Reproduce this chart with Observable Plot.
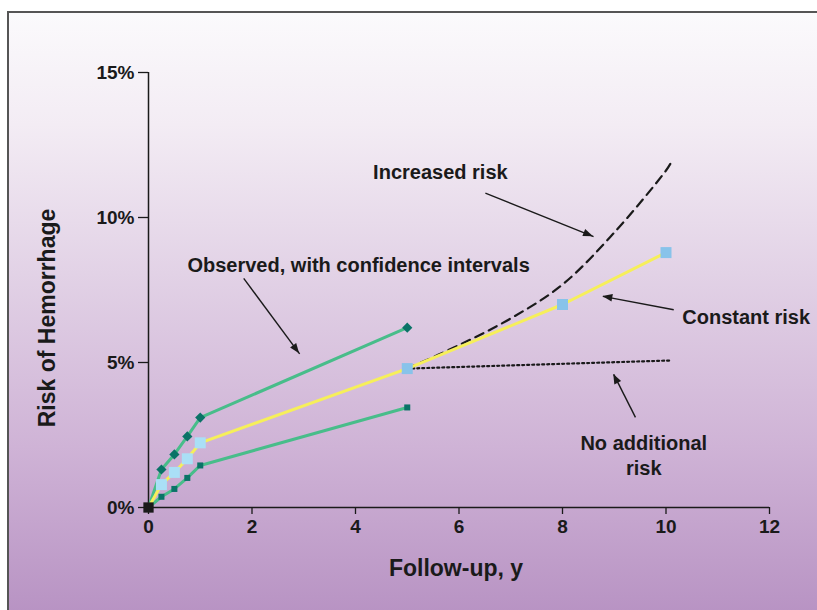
<!DOCTYPE html>
<html>
<head>
<meta charset="utf-8">
<script src="https://cdn.jsdelivr.net/npm/d3@7"></script>
<script src="https://cdn.jsdelivr.net/npm/@observablehq/plot@0.6"></script>
<style>
  html, body { margin: 0; padding: 0; background: #ffffff; width: 817px; height: 610px; overflow: hidden; }
  #frame {
    position: absolute; left: 7px; top: 11px; width: 830px; height: 620px;
    border-left: 2px solid #555; border-top: 2px solid #555;
    background: linear-gradient(to bottom, #fbfafc 0%, #f3ecf4 18%, #e2d2e6 42%, #cfb3d6 70%, #b58fc1 100%);
  }
  #chart { position: absolute; left: 0; top: 0; }
  #chart text { font-weight: 700; fill: #1a1a1a; }
  #chart g[aria-label$="tick label"] text { font-size: 19px; }
</style>
</head>
<body>
<div id="frame"></div>
<div id="chart"></div>
<script>
// Observed cumulative risk of hemorrhage (%), with confidence limits
const years = [0, 0.25, 0.5, 0.75, 1, 5];
const upperCI = [0, 1.31, 1.83, 2.45, 3.10, 6.2];
const observed = [0, 0.79, 1.21, 1.68, 2.23, 4.79];
const lowerCI = [0, 0.37, 0.64, 1.02, 1.45, 3.45];

// Projections beyond 5 years
const constYears = [5, 8, 10];
const constantRisk = [4.79, 7.0, 8.79];
const incYears = [5, 6, 7, 8, 9, 10, 10.1];
const increasedRisk = [4.79, 5.6, 6.52, 7.69, 9.48, 11.62, 11.9];
const noAddYears = [5, 10.1];
const noAdditionalRisk = [4.79, 5.07];

// Axis ticks
const xTicks = [0, 2, 4, 6, 8, 10, 12];
const yTicks = [0, 5, 10, 15];

// Annotations
const labelText = ["Increased risk", "Observed, with confidence intervals", "Constant risk", "No additional\nrisk"];
const labelX = [5.64, 4.06, 11.55, 9.57];
const labelY = [11.59, 8.38, 6.62, 1.84];
const arrowX1 = [6.51, 1.84, 10.15, 9.41];
const arrowY1 = [10.84, 7.90, 6.82, 3.11];
const arrowX2 = [8.60, 2.92, 8.78, 8.99];
const arrowY2 = [9.34, 5.30, 7.28, 4.59];

const rows = (xs, ys) => xs.map((x, i) => ({x, y: ys[i]}));
const upperData = rows(years, upperCI);
const obsData = rows(years, observed);
const lowerData = rows(years, lowerCI);
const constData = rows(constYears, constantRisk);
const incData = rows(incYears, increasedRisk);
const noAddData = rows(noAddYears, noAdditionalRisk);
const labels = labelText.map((t, i) => ({t, x: labelX[i], y: labelY[i]}));
const arrows = arrowX1.map((x1, i) => ({x1, y1: arrowY1[i], x2: arrowX2[i], y2: arrowY2[i]}));

const green = "#48bd8a", teal = "#0a7367", yellow = "#f6ef5a";

// Filled arrowheads drawn through the plot's own scales
function arrowHeads(index, scales) {
  const g = d3.create("svg:g").attr("fill", "#1a1a1a");
  const L = 10, W = 3.8;
  for (const a of arrows) {
    const x1 = scales.x(a.x1), y1 = scales.y(a.y1), x2 = scales.x(a.x2), y2 = scales.y(a.y2);
    const ang = Math.atan2(y2 - y1, x2 - x1);
    const bx = x2 - L * Math.cos(ang), by = y2 - L * Math.sin(ang);
    const px = -Math.sin(ang) * W, py = Math.cos(ang) * W;
    g.append("path").attr("d", `M${x2},${y2}L${bx + px},${by + py}L${bx - px},${by - py}Z`);
  }
  return g.node();
}

const chart = Plot.plot({
  width: 817,
  height: 610,
  marginLeft: 148,
  marginRight: 48,
  marginTop: 72,
  marginBottom: 103,
  x: {domain: [0, 12]},
  y: {domain: [0, 15]},
  style: {background: "transparent", fontFamily: "'Liberation Sans', Arial, sans-serif", color: "#1a1a1a", overflow: "visible"},
  marks: [
    Plot.ruleY([0], {x1: 0, x2: 12, stroke: "#1a1a1a", strokeWidth: 1.5}),
    Plot.ruleX([0], {y1: 0, y2: 15, stroke: "#1a1a1a", strokeWidth: 1.5}),
    Plot.axisX({ticks: xTicks, tickSize: 7, tickPadding: 5, fontSize: 19, fontWeight: "bold", label: null, strokeWidth: 1.3}),
    Plot.axisY({ticks: yTicks, tickFormat: d => d + "%", tickSize: 10, tickPadding: 4, fontSize: 19, fontWeight: "bold", label: null, strokeWidth: 1.3}),
    Plot.text(["Follow-up, y"], {frameAnchor: "bottom", dy: 68, dx: -3, fontSize: 23, fontWeight: "bold"}),
    Plot.text(["Risk of Hemorrhage"], {frameAnchor: "left", textAnchor: "middle", dx: -101, dy: 28, rotate: -90, fontSize: 23, fontWeight: "bold"}),

    Plot.line(incData, {x: "x", y: "y", stroke: "#1a1a1a", strokeWidth: 2.2, strokeDasharray: "9,6", curve: "catmull-rom"}),
    Plot.line(noAddData, {x: "x", y: "y", stroke: "#1a1a1a", strokeWidth: 2.2, strokeDasharray: "2,3"}),
    Plot.line(upperData, {x: "x", y: "y", stroke: green, strokeWidth: 3}),
    Plot.line(lowerData, {x: "x", y: "y", stroke: green, strokeWidth: 3}),
    Plot.line(obsData, {x: "x", y: "y", stroke: yellow, strokeWidth: 3}),
    Plot.line(constData, {x: "x", y: "y", stroke: yellow, strokeWidth: 3}),

    Plot.dot(upperData.slice(1), {x: "x", y: "y", symbol: "diamond2", r: 4.6, fill: teal}),
    Plot.dot(lowerData.slice(1), {x: "x", y: "y", symbol: "square", r: 3.4, fill: teal}),
    Plot.dot(obsData.slice(1), {x: "x", y: "y", symbol: "square", r: 6.2, fill: d => d.x < 2 ? "#aadff6" : "#88c3ea"}),
    Plot.dot(constData.slice(1), {x: "x", y: "y", symbol: "square", r: 6.2, fill: "#88c3ea"}),
    Plot.dot(obsData.slice(0, 1), {x: "x", y: "y", symbol: "square", r: 5.8, fill: "#1a1a1a"}),

    Plot.link(arrows, {x1: "x1", y1: "y1", x2: "x2", y2: "y2", stroke: "#1a1a1a", strokeWidth: 1.4}),
    arrowHeads,
    Plot.text(labels, {x: "x", y: "y", text: "t", fontSize: 20, fontWeight: "bold", lineHeight: 1.25})
  ]
});
document.getElementById("chart").appendChild(chart);
</script>
</body>
</html>
